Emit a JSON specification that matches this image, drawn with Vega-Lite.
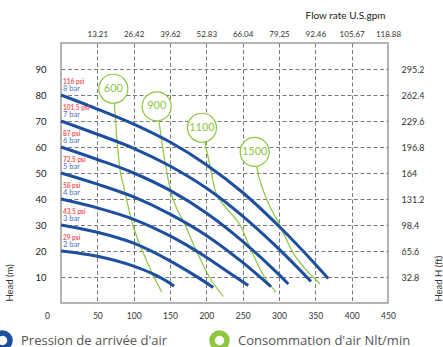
{
  "$schema": "https://vega.github.io/schema/vega-lite/v6.json",
  "width": 327,
  "height": 260,
  "autosize": {"type": "none"},
  "padding": {"left": 61, "top": 43, "right": 55, "bottom": 44},
  "background": "white",
  "config": {
    "view": {"stroke": "#9b9b9b", "strokeWidth": 1.5},
    "font": "Lato",
    "axis": {"labelFont": "Lato", "titleFont": "Lato"},
    "legend": {"labelFont": "Open Sans"}
  },
  "datasets": {
    "pressure": [
      {"bar": "8 bar", "q": 0, "h": 80, "kind": "Pression de arrivée d'air"},
      {"bar": "8 bar", "q": 50, "h": 74.6, "kind": "Pression de arrivée d'air"},
      {"bar": "8 bar", "q": 100, "h": 68.8, "kind": "Pression de arrivée d'air"},
      {"bar": "8 bar", "q": 150, "h": 61.9, "kind": "Pression de arrivée d'air"},
      {"bar": "8 bar", "q": 200, "h": 53.2, "kind": "Pression de arrivée d'air"},
      {"bar": "8 bar", "q": 250, "h": 42.5, "kind": "Pression de arrivée d'air"},
      {"bar": "8 bar", "q": 300, "h": 29.5, "kind": "Pression de arrivée d'air"},
      {"bar": "8 bar", "q": 350, "h": 14.9, "kind": "Pression de arrivée d'air"},
      {"bar": "8 bar", "q": 367.8, "h": 9.4, "kind": "Pression de arrivée d'air"},
      {"bar": "7 bar", "q": 0, "h": 70, "kind": "Pression de arrivée d'air"},
      {"bar": "7 bar", "q": 50, "h": 64.9, "kind": "Pression de arrivée d'air"},
      {"bar": "7 bar", "q": 100, "h": 59.5, "kind": "Pression de arrivée d'air"},
      {"bar": "7 bar", "q": 150, "h": 52.7, "kind": "Pression de arrivée d'air"},
      {"bar": "7 bar", "q": 200, "h": 44.2, "kind": "Pression de arrivée d'air"},
      {"bar": "7 bar", "q": 250, "h": 33.4, "kind": "Pression de arrivée d'air"},
      {"bar": "7 bar", "q": 300, "h": 20.7, "kind": "Pression de arrivée d'air"},
      {"bar": "7 bar", "q": 344, "h": 8.3, "kind": "Pression de arrivée d'air"},
      {"bar": "6 bar", "q": 0, "h": 60, "kind": "Pression de arrivée d'air"},
      {"bar": "6 bar", "q": 50, "h": 55.2, "kind": "Pression de arrivée d'air"},
      {"bar": "6 bar", "q": 100, "h": 50.0, "kind": "Pression de arrivée d'air"},
      {"bar": "6 bar", "q": 150, "h": 43.3, "kind": "Pression de arrivée d'air"},
      {"bar": "6 bar", "q": 200, "h": 34.6, "kind": "Pression de arrivée d'air"},
      {"bar": "6 bar", "q": 250, "h": 23.7, "kind": "Pression de arrivée d'air"},
      {"bar": "6 bar", "q": 300, "h": 10.9, "kind": "Pression de arrivée d'air"},
      {"bar": "6 bar", "q": 312.8, "h": 7.3, "kind": "Pression de arrivée d'air"},
      {"bar": "5 bar", "q": 0, "h": 50, "kind": "Pression de arrivée d'air"},
      {"bar": "5 bar", "q": 50, "h": 45.7, "kind": "Pression de arrivée d'air"},
      {"bar": "5 bar", "q": 100, "h": 40.8, "kind": "Pression de arrivée d'air"},
      {"bar": "5 bar", "q": 150, "h": 34.2, "kind": "Pression de arrivée d'air"},
      {"bar": "5 bar", "q": 200, "h": 26.0, "kind": "Pression de arrivée d'air"},
      {"bar": "5 bar", "q": 250, "h": 15.6, "kind": "Pression de arrivée d'air"},
      {"bar": "5 bar", "q": 289, "h": 6.3, "kind": "Pression de arrivée d'air"},
      {"bar": "4 bar", "q": 0, "h": 40, "kind": "Pression de arrivée d'air"},
      {"bar": "4 bar", "q": 50, "h": 36.6, "kind": "Pression de arrivée d'air"},
      {"bar": "4 bar", "q": 100, "h": 32.2, "kind": "Pression de arrivée d'air"},
      {"bar": "4 bar", "q": 150, "h": 25.8, "kind": "Pression de arrivée d'air"},
      {"bar": "4 bar", "q": 200, "h": 17.6, "kind": "Pression de arrivée d'air"},
      {"bar": "4 bar", "q": 230, "h": 11.9, "kind": "Pression de arrivée d'air"},
      {"bar": "4 bar", "q": 257.7, "h": 6.7, "kind": "Pression de arrivée d'air"},
      {"bar": "3 bar", "q": 0, "h": 30, "kind": "Pression de arrivée d'air"},
      {"bar": "3 bar", "q": 50, "h": 27.2, "kind": "Pression de arrivée d'air"},
      {"bar": "3 bar", "q": 100, "h": 23.0, "kind": "Pression de arrivée d'air"},
      {"bar": "3 bar", "q": 150, "h": 16.2, "kind": "Pression de arrivée d'air"},
      {"bar": "3 bar", "q": 180, "h": 11.3, "kind": "Pression de arrivée d'air"},
      {"bar": "3 bar", "q": 209.6, "h": 6.0, "kind": "Pression de arrivée d'air"},
      {"bar": "2 bar", "q": 0, "h": 20, "kind": "Pression de arrivée d'air"},
      {"bar": "2 bar", "q": 50, "h": 18.0, "kind": "Pression de arrivée d'air"},
      {"bar": "2 bar", "q": 100, "h": 14.2, "kind": "Pression de arrivée d'air"},
      {"bar": "2 bar", "q": 125, "h": 11.4, "kind": "Pression de arrivée d'air"},
      {"bar": "2 bar", "q": 150, "h": 7.6, "kind": "Pression de arrivée d'air"},
      {"bar": "2 bar", "q": 155.5, "h": 6.5, "kind": "Pression de arrivée d'air"}
    ],
    "air": [
      {"nl": "600", "q": 72.0, "h": 82.4, "kind": "Consommation d'air Nlt/min"},
      {"nl": "600", "q": 73.3, "h": 77.3, "kind": "Consommation d'air Nlt/min"},
      {"nl": "600", "q": 76.6, "h": 64.1, "kind": "Consommation d'air Nlt/min"},
      {"nl": "600", "q": 81.2, "h": 51.3, "kind": "Consommation d'air Nlt/min"},
      {"nl": "600", "q": 85.7, "h": 45.5, "kind": "Consommation d'air Nlt/min"},
      {"nl": "600", "q": 98.7, "h": 30.1, "kind": "Consommation d'air Nlt/min"},
      {"nl": "600", "q": 112.4, "h": 19.8, "kind": "Consommation d'air Nlt/min"},
      {"nl": "600", "q": 128.0, "h": 10.0, "kind": "Consommation d'air Nlt/min"},
      {"nl": "600", "q": 138.6, "h": 4.2, "kind": "Consommation d'air Nlt/min"},
      {"nl": "900", "q": 131.7, "h": 75.6, "kind": "Consommation d'air Nlt/min"},
      {"nl": "900", "q": 134.9, "h": 69.8, "kind": "Consommation d'air Nlt/min"},
      {"nl": "900", "q": 140.4, "h": 58.9, "kind": "Consommation d'air Nlt/min"},
      {"nl": "900", "q": 150.0, "h": 44.2, "kind": "Consommation d'air Nlt/min"},
      {"nl": "900", "q": 170.6, "h": 30.1, "kind": "Consommation d'air Nlt/min"},
      {"nl": "900", "q": 186.7, "h": 19.8, "kind": "Consommation d'air Nlt/min"},
      {"nl": "900", "q": 205.0, "h": 9.6, "kind": "Consommation d'air Nlt/min"},
      {"nl": "900", "q": 223.3, "h": 2.5, "kind": "Consommation d'air Nlt/min"},
      {"nl": "1100", "q": 194.0, "h": 67.4, "kind": "Consommation d'air Nlt/min"},
      {"nl": "1100", "q": 198.2, "h": 61.7, "kind": "Consommation d'air Nlt/min"},
      {"nl": "1100", "q": 205.0, "h": 52.8, "kind": "Consommation d'air Nlt/min"},
      {"nl": "1100", "q": 211.9, "h": 43.6, "kind": "Consommation d'air Nlt/min"},
      {"nl": "1100", "q": 227.1, "h": 36.6, "kind": "Consommation d'air Nlt/min"},
      {"nl": "1100", "q": 246.3, "h": 30.1, "kind": "Consommation d'air Nlt/min"},
      {"nl": "1100", "q": 262.4, "h": 19.8, "kind": "Consommation d'air Nlt/min"},
      {"nl": "1100", "q": 280.7, "h": 9.6, "kind": "Consommation d'air Nlt/min"},
      {"nl": "1100", "q": 295.9, "h": 4.2, "kind": "Consommation d'air Nlt/min"},
      {"nl": "1500", "q": 266.5, "h": 58.1, "kind": "Consommation d'air Nlt/min"},
      {"nl": "1500", "q": 269.3, "h": 52.4, "kind": "Consommation d'air Nlt/min"},
      {"nl": "1500", "q": 278.0, "h": 43.6, "kind": "Consommation d'air Nlt/min"},
      {"nl": "1500", "q": 287.6, "h": 37.0, "kind": "Consommation d'air Nlt/min"},
      {"nl": "1500", "q": 298.6, "h": 31.3, "kind": "Consommation d'air Nlt/min"},
      {"nl": "1500", "q": 319.6, "h": 19.2, "kind": "Consommation d'air Nlt/min"},
      {"nl": "1500", "q": 337.1, "h": 12.8, "kind": "Consommation d'air Nlt/min"},
      {"nl": "1500", "q": 356.4, "h": 7.4, "kind": "Consommation d'air Nlt/min"}
    ],
    "airLabels": [
      {"nl": "600", "q": 72.0, "h": 82.4},
      {"nl": "900", "q": 131.7, "h": 75.6},
      {"nl": "1100", "q": 194.0, "h": 67.4},
      {"nl": "1500", "q": 266.5, "h": 58.1}
    ],
    "pressLabels": [
      {"bar": "8 bar", "psi": "116 psi", "q": 0, "h": 80},
      {"bar": "7 bar", "psi": "101.5 psi", "q": 0, "h": 70},
      {"bar": "6 bar", "psi": "87 psi", "q": 0, "h": 60},
      {"bar": "5 bar", "psi": "72.5 psi", "q": 0, "h": 50},
      {"bar": "4 bar", "psi": "58 psi", "q": 0, "h": 40},
      {"bar": "3 bar", "psi": "43.5 psi", "q": 0, "h": 30},
      {"bar": "2 bar", "psi": "29 psi", "q": 0, "h": 20}
    ]
  },
  "layer": [
    {
      "data": {"name": "air"},
      "mark": {"type": "line", "strokeWidth": 1.2, "interpolate": "monotone"},
      "encoding": {
        "x": {
          "field": "q", "type": "quantitative",
          "scale": {"domain": [0, 450], "nice": false},
          "axis": {
            "orient": "top", "values": [50, 100, 150, 200, 250, 300, 350, 400, 450],
            "labelExpr": "['','13.21','26.42','39.62','52.83','66.04','79.25','92.46','105.67','118.88'][round(datum.value/50)]",
            "ticks": false, "domain": false, "grid": false,
            "labelPadding": 5, "labelFontSize": 8, "labelColor": "#333", "labelOverlap": false, "labelFlush": false,
            "title": "Flow rate U.S.gpm", "titleFontSize": 10, "titleFontWeight": "normal", "titleColor": "#222",
            "titleX": 324, "titleY": -28, "titleAlign": "right", "titleBaseline": "middle"
          }
        },
        "y": {
          "field": "h", "type": "quantitative",
          "scale": {"domain": [0, 100], "nice": false},
          "axis": {
            "orient": "right", "values": [10, 20, 30, 40, 50, 60, 70, 80, 90],
            "labelExpr": "['','32.8','65.6','98.4','131.2','164','196.8','229.6','262.4','295.2'][round(datum.value/10)]",
            "ticks": false, "domain": false, "grid": false,
            "labelPadding": 13, "labelFontSize": 9, "labelColor": "#333", "labelOverlap": false,
            "title": "Head H (ft)", "titleFontSize": 9.5, "titleFontWeight": "normal", "titleColor": "#333",
            "titleAngle": 270, "titleX": 50, "titleY": 258, "titleAlign": "left", "titleBaseline": "middle"
          }
        },
        "color": {
          "field": "kind", "type": "nominal",
          "scale": {"domain": ["Pression de arrivée d'air", "Consommation d'air Nlt/min"], "range": ["#1d4f9e", "#8dc63f"]}
        },
        "detail": {"field": "nl"}
      }
    },
    {
      "data": {"name": "pressure"},
      "mark": {"type": "line", "strokeWidth": 3, "interpolate": "monotone"},
      "encoding": {
        "x": {
          "field": "q", "type": "quantitative",
          "scale": {"domain": [0, 450], "nice": false},
          "axis": {
            "orient": "bottom", "values": [0, 50, 100, 150, 200, 250, 300, 350, 400, 450],
            "ticks": false, "domain": false, "title": null,
            "labelPadding": 8, "labelFontSize": 8.5, "labelColor": "#333", "labelOverlap": false, "labelFlush": false,
            "labelOffset": {"condition": {"test": "datum.value == 0", "value": -14}, "value": 0},
            "grid": true, "gridDash": [4, 2.5], "gridColor": "#7a7a7a", "gridWidth": 1,
            "gridOpacity": {"condition": {"test": "datum.value == 0 || datum.value == 450", "value": 0}, "value": 1}
          }
        },
        "y": {
          "field": "h", "type": "quantitative",
          "scale": {"domain": [0, 100], "nice": false},
          "axis": {
            "orient": "left", "values": [10, 20, 30, 40, 50, 60, 70, 80, 90],
            "ticks": false, "domain": false,
            "labelPadding": 15, "labelFontSize": 9.5, "labelColor": "#222", "labelOverlap": false,
            "grid": true, "gridDash": [4, 2.5], "gridColor": "#7a7a7a", "gridWidth": 1,
            "title": "Head (m)", "titleFontSize": 9.5, "titleFontWeight": "normal", "titleColor": "#333",
            "titleAngle": 270, "titleX": -52, "titleY": 258, "titleAlign": "left", "titleBaseline": "middle"
          }
        },
        "color": {
          "field": "kind", "type": "nominal",
          "scale": {"domain": ["Pression de arrivée d'air", "Consommation d'air Nlt/min"], "range": ["#1d4f9e", "#8dc63f"]},
          "legend": {
            "orient": "none", "legendX": -69, "legendY": 287, "direction": "horizontal", "title": null,
            "padding": 0, "symbolType": "circle", "symbolSize": 225, "symbolStrokeWidth": 5.5,
            "symbolFillColor": "white", "labelFontSize": 13, "labelColor": "#555", "labelOffset": 8,
            "columnPadding": 33, "labelLimit": 300,
            "encode": {"symbols": {"update": {"strokeWidth": {"value": 5.5}, "fill": {"value": "white"}}}}
          }
        },
        "detail": {"field": "bar"}
      }
    },
    {
      "data": {"name": "airLabels"},
      "mark": {"type": "point", "shape": "circle", "size": 841, "filled": true, "fill": "white", "stroke": "#8dc63f", "strokeWidth": 1.2, "opacity": 1},
      "encoding": {
        "x": {"field": "q", "type": "quantitative", "scale": {"domain": [0, 450], "nice": false}, "axis": null},
        "y": {"field": "h", "type": "quantitative", "scale": {"domain": [0, 100], "nice": false}, "axis": null}
      }
    },
    {
      "data": {"name": "airLabels"},
      "mark": {"type": "text", "fontSize": 11, "color": "#8dc63f", "align": "center", "baseline": "middle"},
      "encoding": {
        "x": {"field": "q", "type": "quantitative", "scale": {"domain": [0, 450], "nice": false}, "axis": null},
        "y": {"field": "h", "type": "quantitative", "scale": {"domain": [0, 100], "nice": false}, "axis": null},
        "text": {"field": "nl"}
      }
    },
    {
      "data": {"name": "pressLabels"},
      "mark": {"type": "text", "fontSize": 6.5, "fontWeight": "bold", "color": "#f2585b", "align": "left", "baseline": "middle", "dx": 2, "dy": -13.5},
      "encoding": {
        "x": {"field": "q", "type": "quantitative", "scale": {"domain": [0, 450], "nice": false}, "axis": null},
        "y": {"field": "h", "type": "quantitative", "scale": {"domain": [0, 100], "nice": false}, "axis": null},
        "text": {"field": "psi"}
      }
    },
    {
      "data": {"name": "pressLabels"},
      "mark": {"type": "text", "fontSize": 7.5, "color": "#4a72c8", "align": "left", "baseline": "middle", "dx": 2, "dy": -6.5},
      "encoding": {
        "x": {"field": "q", "type": "quantitative", "scale": {"domain": [0, 450], "nice": false}, "axis": null},
        "y": {"field": "h", "type": "quantitative", "scale": {"domain": [0, 100], "nice": false}, "axis": null},
        "text": {"field": "bar"}
      }
    }
  ],
  "resolve": {"scale": {"x": "independent", "y": "independent"}}
}
